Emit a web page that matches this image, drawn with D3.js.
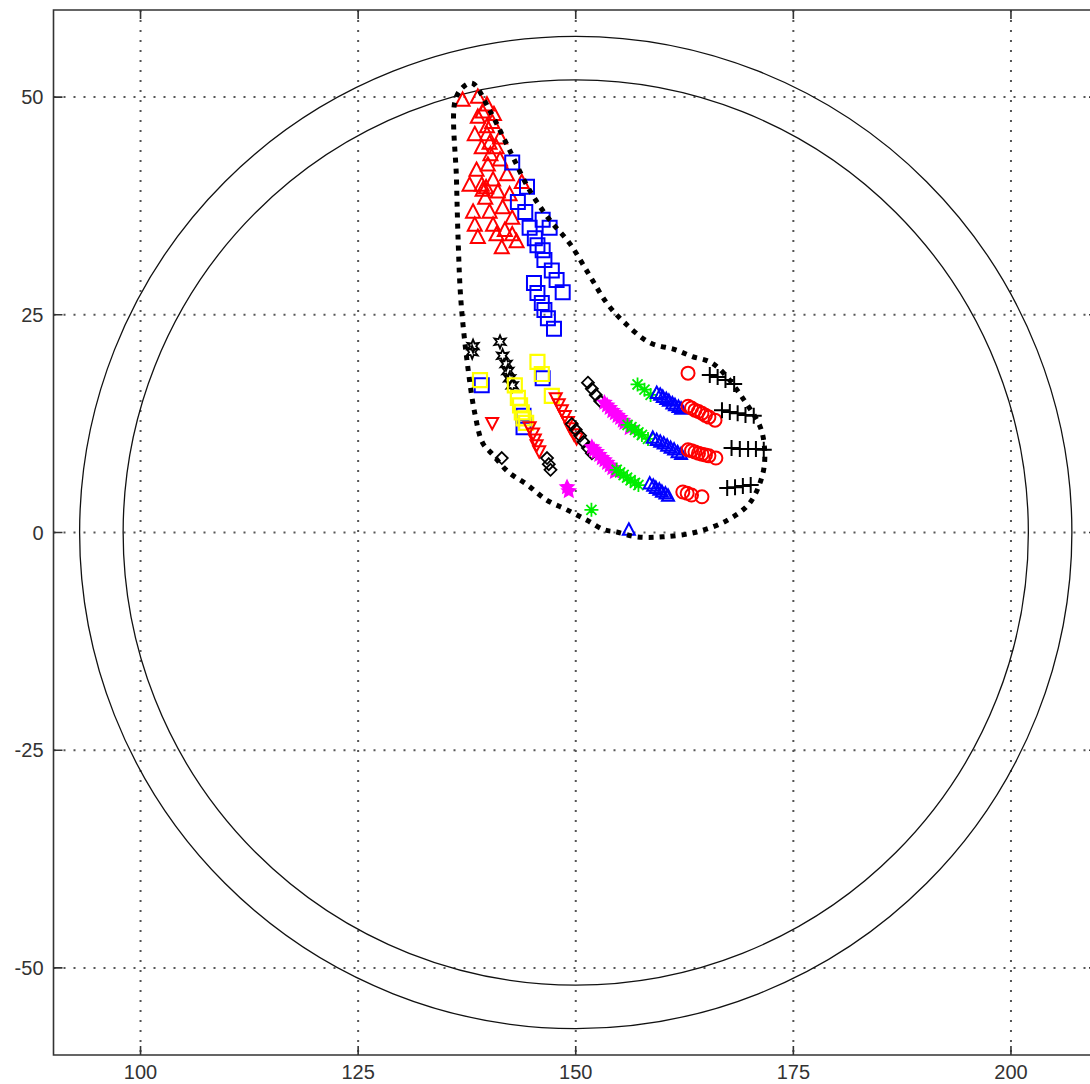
<!DOCTYPE html>
<html>
<head>
<meta charset="utf-8">
<script src="https://cdn.jsdelivr.net/npm/d3@7"></script>
<style>
  body { margin: 0; background: #fff; }
  svg { display: block; }
  text { font-family: "Liberation Sans", Arial, sans-serif; font-size: 20px; fill: #333; }
</style>
</head>
<body>
<div id="wrapper"></div>
<script>
/* the data: [x, y] pairs */
const xTicks = [100, 125, 150, 175, 200]
const yTicks = [-50, -25, 0, 25, 50]
const ringCenter = [150, 0]
const ringRadii = [52, 57]

const boundary = [
  [138.1, 51.6], [140.1, 48.5], [142.4, 43.9], [144.7, 39.3], [147.0, 35.9],
  [149.3, 33.2], [151.6, 29.5], [153.6, 26.3], [155.6, 24.1], [158.5, 21.8],
  [161.4, 21.0], [163.4, 20.2], [165.4, 19.6], [166.9, 18.4], [169.2, 15.4],
  [171.2, 12.1], [171.7, 9.5], [171.5, 6.8], [170.0, 3.4], [167.4, 1.4],
  [163.9, 0.06], [160.0, -0.5], [157.0, -0.5], [154.7, 0.06], [153.3, 0.3],
  [151.3, 1.4], [149.0, 2.6], [146.7, 3.7], [144.4, 5.5], [142.2, 7.0],
  [140.5, 8.9], [139.3, 10.3], [138.4, 13.7], [137.5, 19.8], [136.8, 26.7],
  [136.5, 33.2], [136.3, 40.5], [136.1, 49.4], [136.9, 51.0]
]

const redUpTriangles = [
  [137.0, 49.65], [138.75, 50.0], [139.8, 49.1], [139.3, 48.3], [138.75, 47.7],
  [140.4, 47.1], [139.8, 46.6], [138.4, 45.7], [139.8, 45.7], [141.3, 45.3],
  [140.1, 44.7], [139.2, 44.2], [140.9, 44.2], [141.3, 42.8], [139.9, 42.2],
  [138.6, 41.6], [142.1, 41.1], [140.5, 40.5], [143.8, 40.2], [137.8, 39.9],
  [139.2, 39.9], [139.3, 39.3], [141.05, 39.1], [142.4, 38.8], [139.6, 38.4],
  [141.6, 37.3], [138.2, 36.8], [140.1, 36.8], [142.7, 36.1], [138.4, 35.3],
  [140.5, 35.3], [141.85, 34.7], [140.9, 34.2], [142.7, 34.2], [138.75, 33.9],
  [143.2, 33.4], [141.5, 32.7], [140.6, 48.0], [140.2, 43.4], [139.7, 39.6]
]
const blueSquares = [
  [142.7, 42.5], [144.4, 39.7], [143.35, 37.95], [144.2, 36.8], [146.2, 35.9],
  [147.0, 35.0], [144.7, 35.0], [145.3, 33.8], [145.6, 33.0], [146.2, 32.4],
  [146.4, 31.3], [147.25, 30.1], [147.8, 29.0], [148.5, 27.6], [145.2, 28.65],
  [145.6, 27.5], [146.1, 26.35], [146.4, 25.55], [146.8, 24.6], [147.5, 23.4],
  [139.2, 16.9], [146.2, 17.7], [144.0, 13.4], [144.0, 12.1]
]
const blackHexagrams = [
  [138.2, 21.4], [138.1, 20.7], [141.3, 21.9], [141.6, 20.3], [142.0, 19.35],
  [142.2, 18.55], [142.4, 17.7], [142.7, 16.9]
]
const yellowSquares = [
  [139.0, 17.5], [145.6, 19.6], [146.1, 18.2], [143.0, 16.9], [143.35, 15.45],
  [143.6, 14.6], [143.8, 13.8], [144.0, 13.1], [144.3, 12.6], [147.25, 15.7]
]
const redDownTriangles = [
  [140.4, 12.6], [144.7, 12.1], [145.1, 11.4], [145.3, 10.7], [145.5, 10.05],
  [145.8, 9.35], [147.7, 15.45], [148.05, 14.75], [148.4, 14.05], [148.75, 13.4],
  [149.1, 12.7], [149.4, 12.0], [149.8, 11.3], [150.1, 10.85]
]
const blackDiamonds = [
  [141.5, 8.55], [151.4, 17.2], [151.85, 16.5], [152.3, 15.8], [152.8, 15.1],
  [149.55, 12.45], [150.0, 11.8], [150.5, 11.1], [150.9, 10.4], [151.4, 9.7],
  [151.85, 9.1], [146.7, 8.55], [146.9, 7.85], [147.1, 7.2]
]
const magentaStars = [
  [153.3, 14.9], [153.6, 14.6], [153.9, 14.3], [154.2, 13.95], [154.5, 13.7],
  [154.8, 13.4], [155.1, 13.15], [155.4, 12.85], [155.6, 12.6], [156.2, 12.0],
  [151.85, 9.8], [152.1, 9.5], [152.4, 9.25], [152.7, 8.9], [153.0, 8.55],
  [153.3, 8.3], [153.6, 8.0], [153.9, 7.7], [154.2, 7.4], [154.5, 6.95],
  [149.0, 5.2], [149.2, 4.75]
]
const greenAsterisks = [
  [157.1, 17.0], [157.9, 16.4], [158.6, 15.8], [155.95, 12.35], [156.4, 12.1],
  [156.8, 11.8], [157.2, 11.5], [157.6, 11.2], [158.3, 10.75], [154.7, 7.2],
  [155.1, 6.9], [155.5, 6.6], [155.9, 6.3], [156.3, 6.0], [156.8, 5.7],
  [157.2, 5.45], [151.8, 2.6]
]
const blueTriangles = [
  [159.3, 16.0], [159.7, 15.8], [160.0, 15.55], [160.4, 15.3], [160.7, 15.1],
  [161.1, 14.8], [161.4, 14.6], [161.8, 14.4], [162.1, 14.2],
  [158.85, 10.85], [159.3, 10.6], [159.7, 10.4], [160.1, 10.2], [160.5, 9.95],
  [160.9, 9.7], [161.3, 9.5], [161.7, 9.2], [162.1, 9.0],
  [158.5, 5.6], [158.9, 5.35], [159.2, 5.1], [159.6, 4.9], [159.9, 4.65],
  [160.3, 4.45], [160.6, 4.2], [156.1, 0.3]
]
const redCircles = [
  [162.9, 18.3], [162.9, 14.5], [163.3, 14.3], [163.7, 14.05], [164.1, 13.9],
  [164.5, 13.7], [164.9, 13.45], [165.3, 13.25], [166.0, 12.9],
  [162.9, 9.5], [163.3, 9.4], [163.7, 9.25], [164.1, 9.1], [164.5, 9.0],
  [164.9, 8.9], [165.3, 8.8], [166.1, 8.55],
  [162.3, 4.65], [162.8, 4.5], [163.3, 4.3], [164.5, 4.1]
]
const blackPluses = [
  [165.4, 18.1], [166.3, 17.85], [167.2, 17.5], [168.2, 17.05], [166.8, 14.05],
  [167.7, 13.85], [168.6, 13.7], [169.5, 13.5], [170.45, 13.4], [167.9, 9.7],
  [168.85, 9.6], [169.8, 9.6], [170.7, 9.6], [171.6, 9.5], [167.4, 5.1],
  [168.3, 5.2], [169.2, 5.35], [170.1, 5.45]
]

/* dimensions: the right edge of the axes box falls just outside the window */
const dimensions = {
  width: 1090,
  height: 1084,
  margin: { top: 10, left: 53.5 },
  boundedWidth: 1044.5,
  boundedHeight: 1045,
}

const svg = d3.select("#wrapper").append("svg")
  .attr("width", dimensions.width)
  .attr("height", dimensions.height)

const xScale = d3.scaleLinear()
  .domain([90, 210])
  .range([dimensions.margin.left, dimensions.margin.left + dimensions.boundedWidth])
const yScale = d3.scaleLinear()
  .domain([-60, 60])
  .range([dimensions.margin.top + dimensions.boundedHeight, dimensions.margin.top])

const x0 = xScale.range()[0], x1 = xScale.range()[1]
const yTop = yScale.range()[1], yBottom = yScale.range()[0]

/* dotted grid */
const grid = svg.append("g")
  .attr("stroke", "#555")
  .attr("stroke-width", 2)
  .attr("stroke-dasharray", "2,8")
grid.selectAll(".gx").data(xTicks).join("line")
  .attr("x1", d => xScale(d)).attr("x2", d => xScale(d))
  .attr("y1", yTop).attr("y2", yBottom)
grid.selectAll(".gy").data(yTicks).join("line")
  .attr("x1", x0).attr("x2", x1)
  .attr("y1", d => yScale(d)).attr("y2", d => yScale(d))

/* the two rings */
svg.append("g").selectAll("circle").data(ringRadii).join("circle")
  .attr("cx", xScale(ringCenter[0]))
  .attr("cy", yScale(ringCenter[1]))
  .attr("r", d => xScale(ringCenter[0] + d) - xScale(ringCenter[0]))
  .attr("fill", "none")
  .attr("stroke", "#111")
  .attr("stroke-width", 1.3)

/* marker shapes, sizes in pixels */
const shapes = {
  triUp: w => `M0,${-w * 0.55}L${w / 2},${w * 0.4}L${-w / 2},${w * 0.4}Z`,
  triDown: w => `M0,${w * 0.55}L${w / 2},${-w * 0.4}L${-w / 2},${-w * 0.4}Z`,
  square: w => `M${-w / 2},${-w / 2}h${w}v${w}h${-w}Z`,
  diamond: w => `M0,${-w / 2}L${w / 2},0L0,${w / 2}L${-w / 2},0Z`,
  circle: w => `M${w / 2},0A${w / 2},${w / 2} 0 1 1 ${-w / 2},0A${w / 2},${w / 2} 0 1 1 ${w / 2},0Z`,
  plus: w => `M${-w / 2},0H${w / 2}M0,${-w / 2}V${w / 2}`,
  asterisk: w => {
    const r = w / 2, q = r * 0.72
    return `M${-r},0H${r}M0,${-r}V${r}M${-q},${-q}L${q},${q}M${-q},${q}L${q},${-q}`
  },
  star: (w, n) => {
    const pts = []
    for (let i = 0; i < n * 2; i++) {
      const r = i % 2 === 0 ? w / 2 : w / 4.2
      const a = -Math.PI / 2 + i * Math.PI / n
      pts.push([r * Math.cos(a), r * Math.sin(a)])
    }
    return "M" + pts.map(p => p.join(",")).join("L") + "Z"
  },
}

const series = [
  { data: redUpTriangles, path: shapes.triUp(14), stroke: "#f00", fill: "none", width: 2 },
  { data: blueSquares, path: shapes.square(14), stroke: "#00f", fill: "none", width: 2 },
  { data: blackHexagrams, path: shapes.star(13, 6), stroke: "#000", fill: "none", width: 1.8 },
  { data: yellowSquares, path: shapes.square(14), stroke: "#ff0", fill: "none", width: 2.2 },
  { data: redDownTriangles, path: shapes.triDown(12), stroke: "#f00", fill: "none", width: 2 },
  { data: blackDiamonds, path: shapes.diamond(12), stroke: "#000", fill: "none", width: 1.8 },
  { data: magentaStars, path: shapes.star(14, 5), stroke: "#f0f", fill: "#f0f", width: 1.5 },
  { data: greenAsterisks, path: shapes.asterisk(14), stroke: "#0e0", fill: "none", width: 1.8 },
  { data: blueTriangles, path: shapes.triUp(12), stroke: "#00f", fill: "none", width: 2 },
  { data: redCircles, path: shapes.circle(13), stroke: "#f00", fill: "none", width: 2 },
  { data: blackPluses, path: shapes.plus(16), stroke: "#000", fill: "none", width: 2 },
]

series.forEach(function(s) {
  svg.append("g").selectAll("path").data(s.data).join("path")
    .attr("transform", d => `translate(${xScale(d[0])},${yScale(d[1])})`)
    .attr("d", s.path)
    .attr("fill", s.fill)
    .attr("stroke", s.stroke)
    .attr("stroke-width", s.width)
})

/* thick dotted boundary */
const boundaryLine = d3.line()
  .x(d => xScale(d[0]))
  .y(d => yScale(d[1]))
  .curve(d3.curveCatmullRomClosed.alpha(0.5))
svg.append("path")
  .datum(boundary)
  .attr("d", boundaryLine)
  .attr("fill", "none")
  .attr("stroke", "#000")
  .attr("stroke-width", 5)
  .attr("stroke-dasharray", "5,6")

/* axes box: left, top, bottom (right is off screen) with inward ticks */
const frame = svg.append("g").attr("stroke", "#333").attr("stroke-width", 1.6).attr("fill", "none")
frame.append("path").attr("d", `M${x1},${yTop}H${x0}V${yBottom}H${x1}V${yTop}`)
const tickLen = 9
frame.selectAll(".tx").data(xTicks).join("path")
  .attr("d", d => `M${xScale(d)},${yBottom}v${-tickLen}M${xScale(d)},${yTop}v${tickLen}`)
frame.selectAll(".ty").data(yTicks).join("path")
  .attr("d", d => `M${x0},${yScale(d)}h${tickLen}M${x1},${yScale(d)}h${-tickLen}`)

svg.append("g").selectAll("text").data(xTicks).join("text")
  .attr("x", d => xScale(d))
  .attr("y", yBottom + 24)
  .attr("text-anchor", "middle")
  .text(d => d)
svg.append("g").selectAll("text").data(yTicks).join("text")
  .attr("x", x0 - 10)
  .attr("y", d => yScale(d) + 7)
  .attr("text-anchor", "end")
  .text(d => d)
</script>
</body>
</html>
